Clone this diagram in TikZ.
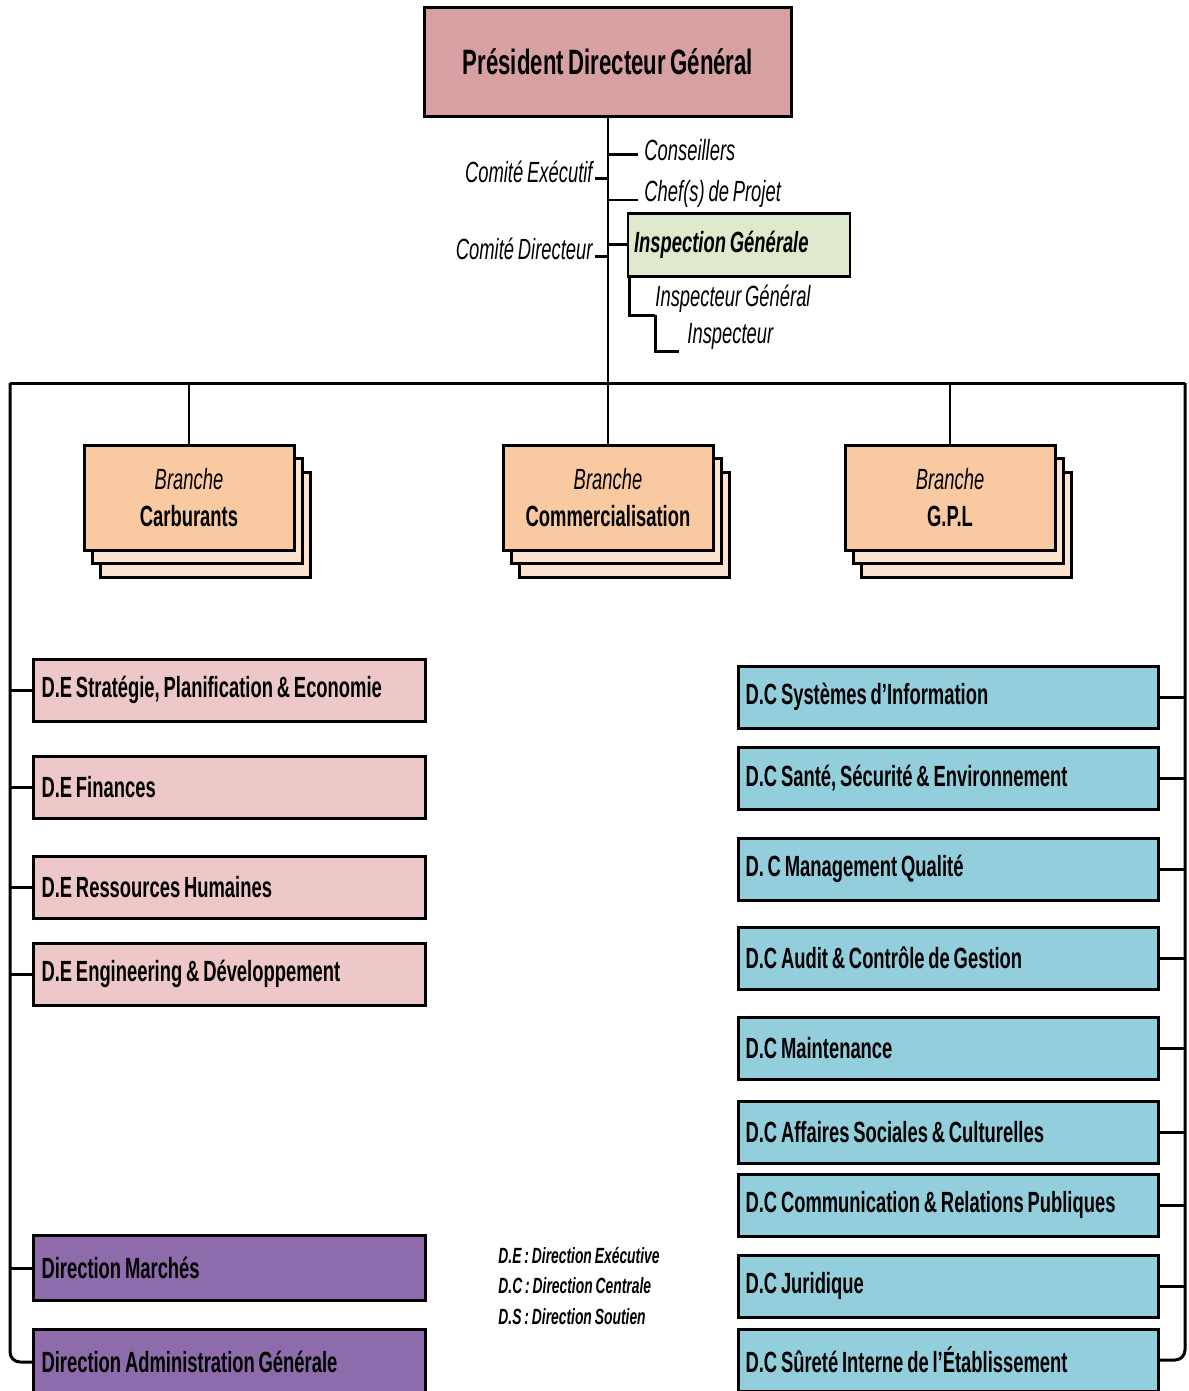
\documentclass[tikz,border=0pt]{standalone}
\usepackage{fontspec}
\setmainfont{Liberation Sans}[FakeStretch=0.63, WordSpace=0.75]
\usetikzlibrary{positioning,calc}
\definecolor{pdgrose}{HTML}{D7A0A2}
\definecolor{igreen}{HTML}{DFE9CC}
\definecolor{depink}{HTML}{EEC7C8}
\definecolor{dspurple}{HTML}{8E6BAA}
\definecolor{dcblue}{HTML}{93CEDD}
\definecolor{brpeach}{HTML}{F9C9A1}
\definecolor{brpale}{HTML}{FCE3CF}
\newcommand\boxfnt{\fontsize{14.6}{16}\selectfont\bfseries}
\newcommand\pdgfnt{\fontsize{17.6}{20}\selectfont\bfseries}
\newcommand\lblfnt{\fontsize{14.6}{16}\selectfont\itshape}
\newcommand\igfnt{\fontsize{14.6}{16}\selectfont\bfseries\itshape}
\newcommand\legfnt{\fontsize{11}{15.25}\selectfont\bfseries\itshape}
\newcommand\brfnt{\fontsize{14.6}{18.5}\selectfont\bfseries}
\tikzset{
  box/.style    = { draw, line width=1.5pt, minimum height=31pt, inner ysep=0pt, align=flush left, font=\boxfnt },
  debox/.style  = { box, fill=depink, text width=188pt, inner xsep=4pt },
  dsbox/.style  = { box, fill=dspurple, text width=188pt, inner xsep=4pt, minimum height=32.5pt },
  dcbox/.style  = { box, fill=dcblue, text width=203pt, inner xsep=3.5pt },
  branche/.style = { draw, line width=1.5pt, fill=brpeach, minimum width=105pt, minimum height=52.5pt,
    align=center, font=\brfnt, inner sep=0pt },
  brstack/.style = { branche, fill=brpale },
  lbl/.style    = { font=\lblfnt, inner sep=1pt },
  tick/.style   = { line width=1.5pt },
  link/.style   = { line width=0.8pt }
}
\begin{document}
\begin{tikzpicture}[x=0.5pt,y=-0.5pt]
  \useasboundingbox (0,0) rectangle (1188,1391);
  % sommet
  \node[draw, line width=1.5pt, fill=pdgrose, minimum width=183.5pt, minimum height=54.5pt,
    font=\pdgfnt] (pdg) at (608,62) {Président Directeur Général};
  \coordinate (bus) at (608,383);
  \draw[line width=1.3pt] (pdg.south) -- (bus);
  \node[lbl, anchor=west] (cons) at (642,150) {Conseillers};
  \node[lbl, anchor=east] (cexe) at (595,172) {Comité Exécutif};
  \node[lbl, anchor=west] (chef) at (642,194) {Chef(s) de Projet};
  \node[lbl, anchor=east] (cdir) at (595,249) {Comité Directeur};
  \node[draw, line width=1.3pt, fill=igreen, minimum height=31.5pt, text width=105pt, inner xsep=3pt,
    align=flush left, font=\igfnt] (insp) at (739,245) {Inspection Générale};
  \node[lbl, anchor=west] (ig) at (653,299) {Inspecteur Général};
  \node[lbl, anchor=west] (insr) at (685,336) {Inspecteur};
  \path (cons.west) ++(-4,5) coordinate (consT);
  \path (cexe.east) ++(0,7) coordinate (cexeT);
  \path (chef.west) ++(-4,6) coordinate (chefT);
  \path (cdir.east) ++(0,8) coordinate (cdirT);
  \draw[tick] (consT) -- (pdg.south |- consT);
  \draw[tick] (cexeT) -- (pdg.south |- cexeT);
  \draw[link] (chefT) -- (pdg.south |- chefT);
  \draw[tick] (cdirT) -- (pdg.south |- cdirT);
  \draw[tick] (insp.west) -- (pdg.south |- insp.west);
  \path (insp.south west) ++(3,0) coordinate (ispT);
  \path (ig.south west) ++(2,0) coordinate (igT);
  \draw[tick] (ispT) |- (igT);
  \draw[tick] (igT) |- ([xshift=-3pt]insr.south west);
  % bus
  \coordinate (lt) at (10,383);
  \coordinate (rt) at (1185,383);
  \draw[line width=1.5pt] (lt) -- (rt);
  % branches
  \node[brstack] (carbC) at (205,525) {};
  \node[brstack] (carbB) at (197,511) {};
  \node[branche] (carb) at (189,498) {{\mdseries\itshape Branche}\\Carburants};
  \node[brstack] (commC) at (624,525) {};
  \node[brstack] (commB) at (616,511) {};
  \node[branche] (comm) at (608,498) {{\mdseries\itshape Branche}\\Commercialisation};
  \node[brstack] (gplC) at (966,525) {};
  \node[brstack] (gplB) at (958,511) {};
  \node[branche] (gpl) at (950,498) {{\mdseries\itshape Branche}\\G.P.L};
  \draw[link] (carb.north) -- (carb.north |- bus);
  \draw[link] (comm.north) -- (bus);
  \draw[link] (gpl.north) -- (gpl.north |- bus);
  % directions executives
  \node[debox, anchor=west] (de1) at (32,690) {D.E Stratégie, Planification \& Economie};
  \node[debox, anchor=west] (de2) at (32,787) {D.E Finances};
  \node[debox, anchor=west] (de3) at (32,887) {D.E Ressources Humaines};
  \node[debox, anchor=west] (de4) at (32,974) {D.E Engineering \& Développement};
  \node[dsbox, anchor=west] (ds1) at (32,1268) {Direction Marchés};
  \node[dsbox, anchor=west] (ds2) at (32,1362) {Direction Administration Générale};
  \draw[tick, rounded corners=5pt] (lt) |- (ds2.west);
  \draw[tick] (de1.west) -- (lt |- de1.west);
  \draw[tick] (de2.west) -- (lt |- de2.west);
  \draw[tick] (de3.west) -- (lt |- de3.west);
  \draw[tick] (de4.west) -- (lt |- de4.west);
  \draw[tick] (ds1.west) -- (lt |- ds1.west);
  % directions centrales
  \node[dcbox, anchor=east] (dc1) at (1160,697) {D.C Systèmes d’Information};
  \node[dcbox, anchor=east] (dc2) at (1160,778) {D.C Santé, Sécurité \& Environnement};
  \node[dcbox, anchor=east] (dc3) at (1160,869) {D. C Management Qualité};
  \node[dcbox, anchor=east] (dc4) at (1160,958) {D.C Audit \& Contrôle de Gestion};
  \node[dcbox, anchor=east] (dc5) at (1160,1048) {D.C Maintenance};
  \node[dcbox, anchor=east] (dc6) at (1160,1132) {D.C Affaires Sociales \& Culturelles};
  \node[dcbox, anchor=east] (dc7) at (1160,1205) {D.C Communication \& Relations Publiques};
  \node[dcbox, anchor=east] (dc8) at (1160,1286) {D.C Juridique};
  \node[dcbox, anchor=east] (dc9) at (1160,1360) {D.C Sûreté Interne de l’Établissement};
  \draw[tick, rounded corners=5pt] (rt) |- (dc9.east);
  \draw[tick] (dc1.east) -- (rt |- dc1.east);
  \draw[tick] (dc2.east) -- (rt |- dc2.east);
  \draw[tick] (dc3.east) -- (rt |- dc3.east);
  \draw[tick] (dc4.east) -- (rt |- dc4.east);
  \draw[tick] (dc5.east) -- (rt |- dc5.east);
  \draw[tick] (dc6.east) -- (rt |- dc6.east);
  \draw[tick] (dc7.east) -- (rt |- dc7.east);
  \draw[tick] (dc8.east) -- (rt |- dc8.east);
  % legende
  \node[anchor=west, align=left, font=\legfnt, inner sep=0pt] (leg) at (498,1286)
    {D.E : Direction Exécutive\\D.C : Direction Centrale\\D.S : Direction Soutien};
\end{tikzpicture}
\end{document}
